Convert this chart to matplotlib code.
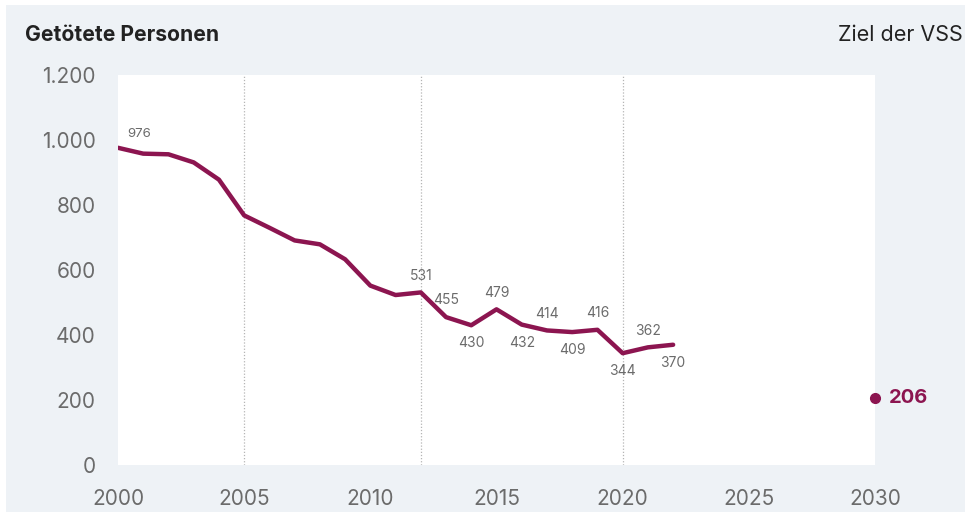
import matplotlib
matplotlib.use("Agg")
import matplotlib.pyplot as plt
from matplotlib.patches import Rectangle

# Getoetete Personen im Strassenverkehr, 2000-2022, plus Ziel 2030
years = list(range(2000, 2023))
killed = [976, 958, 956, 931, 878, 768, 730, 691, 679, 633, 552, 523,
          531, 455, 430, 479, 432, 414, 409, 416, 344, 362, 370]
target_year = 2030
target_value = 206

# which points get a label and where (above / below)
labels_above = [2012, 2013, 2015, 2017, 2019, 2021]
labels_below = [2014, 2016, 2018, 2020, 2022]

vlines = [2005, 2012, 2020]
xticks = [2000, 2005, 2010, 2015, 2020, 2025, 2030]
yticks = [0, 200, 400, 600, 800, 1000, 1200]

line_col = '#8c1550'
grey_txt = '#6b6b6b'
panel_bg = '#eef2f6'

plt.rcParams['font.family'] = ['Inter', 'DejaVu Sans']

fig = plt.figure(figsize=(9.71, 5.17), dpi=100)
fig.patch.set_facecolor('white')
fig.patches.append(Rectangle((6/971, 5/517), 959/971, 507/517, transform=fig.transFigure,
                             facecolor=panel_bg, edgecolor='none', zorder=-10))

ax = fig.add_axes([118/971, 52/517, 757/971, 390/517])
ax.set_facecolor('white')
ax.set_xlim(2000, 2030)
ax.set_ylim(0, 1200)
for s in ax.spines.values():
    s.set_visible(False)

for v in vlines:
    ax.axvline(v, color='#b5b5b5', lw=0.9, ls=(0, (1, 1.5)), zorder=1)

ax.plot(years, killed, color=line_col, lw=3.2, solid_joinstyle='round',
        solid_capstyle='round', zorder=3)

ax.set_xticks(xticks)
ax.set_yticks(yticks)
ax.set_yticklabels([f'{t:,}'.replace(',', '.') for t in yticks])
ax.tick_params(length=0, labelsize=15, labelcolor=grey_txt)
ax.tick_params(axis='y', pad=16)
ax.tick_params(axis='x', pad=17)

# data labels
ax.annotate(str(killed[0]), (years[0], killed[0]), xytext=(7, 8),
            textcoords='offset points', fontsize=9.5, color=grey_txt)
for y, v in zip(years, killed):
    if y in labels_above:
        ax.annotate(str(v), (y, v), xytext=(0, 7), textcoords='offset points',
                    ha='center', va='bottom', fontsize=10, color=grey_txt)
    elif y in labels_below:
        ax.annotate(str(v), (y, v), xytext=(0, -8), textcoords='offset points',
                    ha='center', va='top', fontsize=10, color=grey_txt)

# target 2030
ax.plot([target_year], [target_value], 'o', color=line_col, ms=7, clip_on=False, zorder=4)
ax.annotate(str(target_value), (target_year, target_value), xytext=(10, 0),
            textcoords='offset points', va='center', ha='left', fontsize=14.5,
            fontweight='bold', color=line_col, annotation_clip=False)

fig.text(25/971, 1 - 35/517, 'Getötete Personen', fontsize=15.2, fontweight='bold',
         color='#222222', va='center', ha='left')
fig.text(963/971, 1 - 35/517, 'Ziel der VSS', fontsize=15.5, color='#222222',
         va='center', ha='right')

fig.savefig('out.png', dpi=100, facecolor=fig.get_facecolor())
